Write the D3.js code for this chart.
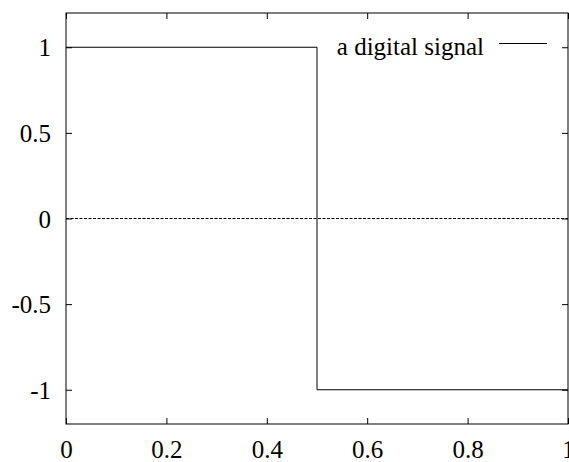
<!DOCTYPE html>
<html>
<head>
<meta charset="utf-8">
<script src="https://cdn.jsdelivr.net/npm/d3@7/dist/d3.min.js"></script>
<style>
body { margin: 0; background: #fff; }
svg text { font-family: "Liberation Serif", "Times New Roman", serif; font-size: 25px; fill: #000; }
</style>
</head>
<body>
<div class="chart"></div>
<script>
// signal points (step from 1 down to -1 at x = 0.5)
var signalX = [0, 0.5, 0.5, 1]
var signalY = [1, 1, -1, -1]
var xTicks = [0, 0.2, 0.4, 0.6, 0.8, 1]
var yTicks = [-1, -0.5, 0, 0.5, 1]
var seriesName = "a digital signal"

var width = 569, height = 462
var plotLeft = 66, plotRight = 568, plotTop = 13, plotBottom = 424

var svg = d3.select(".chart").append("svg").attr("width", width).attr("height", height)

var x = d3.scaleLinear().domain([0, 1]).range([plotLeft, plotRight])
var y = d3.scaleLinear().domain([-1.2, 1.2]).range([plotBottom, plotTop])

// ticks pointing inward on all four sides
function tickAxis(axis, tr) {
    var g = svg.append("g").attr("transform", tr).call(axis)
    g.select(".domain").remove()
    g.selectAll("line").attr("stroke", "#000")
    return g
}
var bx = tickAxis(d3.axisBottom(x).tickValues(xTicks).tickSizeInner(-6).tickSizeOuter(0)
    .tickFormat(function(d){ return d }), "translate(0," + plotBottom + ")")
bx.selectAll("text").attr("y", 34).attr("dy", 0)
tickAxis(d3.axisTop(x).tickValues(xTicks).tickSizeInner(-6).tickSizeOuter(0).tickFormat(""), "translate(0," + plotTop + ")")
var ly = tickAxis(d3.axisLeft(y).tickValues(yTicks).tickSizeInner(-6).tickSizeOuter(0)
    .tickFormat(function(d){ return d }), "translate(" + plotLeft + ",0)")
ly.selectAll("text").attr("x", -15).attr("dy", "0.34em")
tickAxis(d3.axisRight(y).tickValues(yTicks).tickSizeInner(-6).tickSizeOuter(0).tickFormat(""), "translate(" + plotRight + ",0)")
svg.selectAll(".tick text").attr("font-family", null).attr("font-size", null)
svg.selectAll("g").attr("font-family", null).attr("font-size", null)

// zero axis
svg.append("line").attr("x1", x(0)).attr("x2", x(1)).attr("y1", y(0)).attr("y2", y(0))
    .attr("stroke", "#000").attr("stroke-width", 1).attr("stroke-dasharray", "3,1.5")

// signal
var pts = signalX.map(function(d, i){ return [d, signalY[i]] })
svg.append("path").datum(pts)
    .attr("d", d3.line().x(function(d){ return x(d[0]) }).y(function(d){ return y(d[1]) }))
    .attr("fill", "none").attr("stroke", "#000").attr("stroke-width", 1)

// frame
svg.append("rect").attr("x", plotLeft).attr("y", plotTop).attr("width", plotRight - plotLeft).attr("height", plotBottom - plotTop)
    .attr("fill", "none").attr("stroke", "#000").attr("stroke-width", 1)

// key
svg.append("text").attr("x", 484).attr("y", 55).attr("text-anchor", "end").text(seriesName)
svg.append("line").attr("x1", 499).attr("x2", 547).attr("y1", 43.5).attr("y2", 43.5)
    .attr("stroke", "#000").attr("stroke-width", 1)
</script>
</body>
</html>
